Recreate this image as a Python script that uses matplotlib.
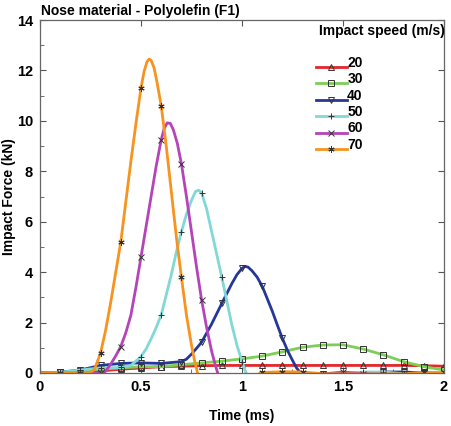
import matplotlib
matplotlib.use("Agg")
import matplotlib.pyplot as plt
import numpy as np

plt.rcParams['font.family'] = ['Liberation Sans', 'DejaVu Sans']
plt.rcParams['font.weight'] = 'bold'

speeds = ["20", "30", "40", "50", "60", "70"]
colors = ["#e3272b", "#7ccf55", "#26379a", "#80d9d6", "#b544b9", "#f7931e"]
markers = ["^", "s", "v", "+", "x", (6, 2, 0)]

t20 = [0, 0.1, 0.2, 0.3, 0.4, 0.5, 0.6, 0.7, 0.8, 0.9, 1.0, 1.1, 1.2, 1.3, 1.4, 1.5, 1.6, 1.7, 1.8, 1.9, 2.0]
f20 = [0, 0.0, 0.03, 0.08, 0.15, 0.2, 0.25, 0.27, 0.29, 0.3, 0.3, 0.3, 0.3, 0.3, 0.3, 0.3, 0.3, 0.3, 0.3, 0.29, 0.27]

t30 = [0, 0.1, 0.2, 0.3, 0.4, 0.5, 0.6, 0.7, 0.8, 0.9, 1.0, 1.1, 1.2, 1.3, 1.4, 1.5, 1.6, 1.7, 1.8, 1.9, 2.0]
f30 = [0, 0.02, 0.08, 0.15, 0.2, 0.25, 0.25, 0.33, 0.4, 0.47, 0.56, 0.67, 0.84, 1.02, 1.11, 1.12, 0.95, 0.72, 0.45, 0.25, 0.12]

t40 = [0, 0.1, 0.2, 0.3, 0.4, 0.5, 0.6, 0.7, 0.725, 0.75, 0.775, 0.8, 0.85, 0.9, 0.95, 0.975, 1.0, 1.015, 1.03,
       1.05, 1.075, 1.1, 1.125, 1.15, 1.175, 1.2, 1.225, 1.25, 1.27, 1.29,
       1.3, 1.4, 1.5, 1.6, 1.7, 1.8, 1.9, 2.0]
f40 = [0, 0.03, 0.12, 0.3, 0.38, 0.4, 0.38, 0.45, 0.55, 0.75, 0.98, 1.22, 1.95, 2.76, 3.55, 3.9, 4.15, 4.23, 4.2,
       4.05, 3.8, 3.44, 2.95, 2.45, 1.9, 1.37, 0.9, 0.5, 0.2, 0.0,
       -0.05, -0.04, -0.04, -0.03, 0.04, 0.04, 0.0, -0.02]

t50 = [0, 0.1, 0.2, 0.3, 0.4, 0.45, 0.5, 0.525, 0.55, 0.575, 0.6, 0.625, 0.65, 0.675, 0.7, 0.725, 0.75, 0.77,
       0.785, 0.8, 0.825, 0.85, 0.875, 0.9, 0.925, 0.95, 0.975, 1.0, 1.02, 1.05,
       1.1, 1.2, 1.3, 1.4, 1.5, 1.6, 1.7, 1.8, 1.9, 2.0]
f50 = [0, 0.03, 0.12, 0.2, 0.22, 0.3, 0.65, 0.95, 1.35, 1.8, 2.3, 3.1, 3.9, 4.8, 5.6, 6.3, 6.85, 7.2,
       7.25, 7.15, 6.5, 5.6, 4.7, 3.8, 2.85, 1.9, 1.1, 0.45, 0.0, -0.3,
       -0.3, -0.2, -0.1, -0.05, -0.02, 0.04, 0.04, -0.03, -0.03, -0.03]

t60 = [0, 0.1, 0.2, 0.3, 0.32, 0.35, 0.375, 0.4, 0.425, 0.45, 0.475, 0.5, 0.525, 0.55, 0.575, 0.6, 0.615, 0.63,
       0.645, 0.66, 0.68, 0.7, 0.725, 0.75, 0.775, 0.8, 0.825, 0.85, 0.87, 0.88, 0.9,
       1.0, 1.1, 1.2, 1.3, 1.4, 1.5, 1.6, 1.7, 1.8, 1.9, 2.0]
f60 = [0, 0.0, 0.0, 0.0, 0.02, 0.35, 0.68, 1.05, 1.6, 2.3, 3.4, 4.6, 5.8, 7.0, 8.2, 9.25, 9.7, 9.92,
       9.9, 9.65, 9.1, 8.3, 7.0, 5.6, 4.2, 2.9, 1.8, 0.85, 0.25, 0.0, -0.3,
       -0.4, -0.3, -0.2, -0.1, -0.04, 0.04, -0.03, -0.05, -0.05, -0.05, -0.05]

t70 = [0, 0.1, 0.2, 0.25, 0.27, 0.3, 0.325, 0.35, 0.375, 0.4, 0.425, 0.45, 0.475, 0.5, 0.515, 0.53, 0.54, 0.55,
       0.565, 0.58, 0.6, 0.625, 0.65, 0.675, 0.7, 0.725, 0.75, 0.765, 0.78, 0.8,
       0.9, 1.0, 1.1, 1.2, 1.3, 1.4, 1.5, 1.6, 1.7, 1.8, 1.9, 2.0]
f70 = [0, 0.0, 0.0, 0.02, 0.15, 0.8, 1.7, 2.8, 4.0, 5.2, 6.8, 8.4, 9.9, 11.3, 11.95, 12.35, 12.45, 12.4,
       12.1, 11.5, 10.6, 9.0, 7.2, 5.4, 3.8, 2.3, 1.1, 0.5, 0.0, -0.3,
       -0.4, -0.3, 0.02, 0.05, 0.04, -0.03, -0.03, -0.04, -0.04, -0.03, 0.02, 0.02]

times = [t20, t30, t40, t50, t60, t70]
forces = [f20, f30, f40, f50, f60, f70]

FS = 10
W, H = 452, 426
fig = plt.figure(figsize=(W / 100, H / 100), dpi=100)
ax = fig.add_axes([40 / W, 53 / H, 404 / W, 353 / H])

handles = []
for t, f, c, m, lab in zip(times, forces, colors, markers, speeds):
    t = np.array(t)
    idx = [i for i, v in enumerate(t) if abs(v * 10 - round(v * 10)) < 1e-6 and v > 0]
    h, = ax.plot(t, f, color=c, lw=2.0, marker=m, markevery=idx, markersize=4.5,
                 markerfacecolor='none', markeredgecolor='#333333', markeredgewidth=0.7, label=lab,
                 solid_joinstyle='round')
    handles.append(h)

ax.set_xlim(0, 2)
ax.set_ylim(0, 14)
ax.set_xticks([0, 0.5, 1, 1.5, 2])
ax.set_xticklabels(["0", "0.5", "1", "1.5", "2"])
ax.set_yticks(np.arange(0, 15, 2))
ax.set_xticks(np.arange(0.25, 2, 0.5), minor=True)
ax.set_yticks(np.arange(1, 14, 2), minor=True)
ax.tick_params(which='both', direction='in', labelsize=FS + 0.5, color='#555555', pad=5)
ax.tick_params(which='major', length=4, top=True, right=True)
ax.tick_params(which='minor', length=3)
for lbl in ax.get_xticklabels() + ax.get_yticklabels():
    lbl.set_fontweight('bold')
for s in ax.spines.values():
    s.set_color('#666666')
    s.set_linewidth(0.9)

fig.text(41 / W, 1 - 11 / H, "Nose material - Polyolefin (F1)", fontsize=FS, fontweight='bold',
         ha='left', va='center')
fig.text(9 / W, (53 + 353 / 2) / H, "Impact Force (kN)", rotation=90, fontsize=FS, fontweight='bold',
         ha='center', va='center')
fig.text(242 / W, 1 - 416 / H, "Time (ms)", fontsize=FS, fontweight='bold', ha='center', va='center')
fig.text(319 / W, 1 - 31 / H, "Impact speed (m/s)", fontsize=FS, fontweight='bold', ha='left', va='center')

leg = ax.legend(handles=handles, loc='upper left', bbox_to_anchor=(316 / W, 1 - 61 / H),
                bbox_transform=fig.transFigure, frameon=False, handlelength=2.2,
                handletextpad=0.05, labelspacing=0.17, borderpad=0, borderaxespad=0, numpoints=1,
                prop={'weight': 'bold', 'size': FS})
for txt in leg.get_texts():
    txt.set_position((0, 5))

fig.savefig("out.png", dpi=100)
